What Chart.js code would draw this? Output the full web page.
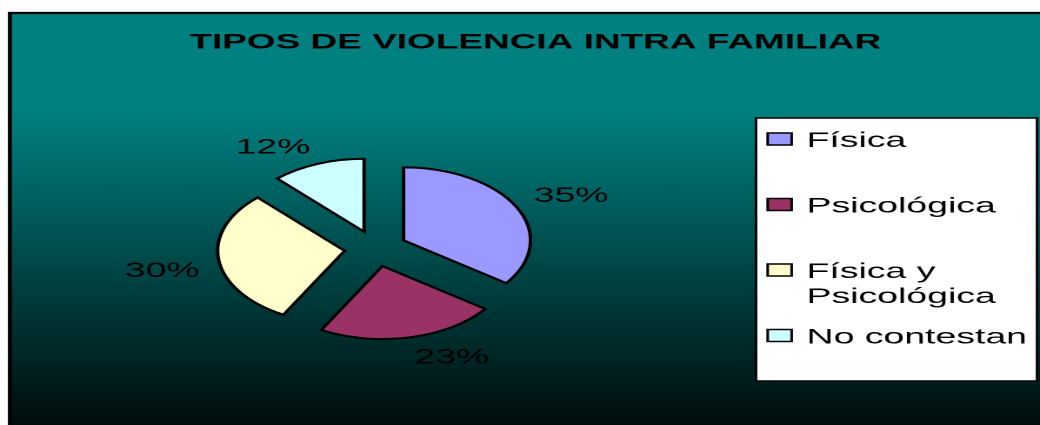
<!DOCTYPE html>
<html lang="es">
<head>
<meta charset="UTF-8">
<title>Tipos de violencia intra familiar</title>
<script src="https://cdn.jsdelivr.net/npm/chart.js"></script>
<style>
  body { margin: 0; background: #fff; }
  canvas { display: block; }
</style>
</head>
<body>
<!-- the original picture is stretched sideways, so the chart is drawn narrow and widened by CSS -->
<canvas id="grafico" width="598" height="425" style="width:1040px;height:425px"></canvas>
<script>
const titulo = 'TIPOS DE VIOLENCIA INTRA FAMILIAR';
const categorias = ['Física', 'Psicológica', 'Física y Psicológica', 'No contestan'];
const leyenda = [['Física'], ['Psicológica'], ['Física y', 'Psicológica'], ['No contestan']];
const porcentajes = [35, 23, 30, 12];
const colores = ['#9999FF', '#993366', '#FFFFCC', '#CCFFFF'];

const FUENTE = '"Liberation Sans", Arial, sans-serif';
const TAM = 21.5;          // font size
const SEPARACION = 18;     // distance of the exploded slices
const DIST_ETIQUETA = 84;  // label corner distance from slice tip
const ALTO_MAY = 15.5;     // cap height of the labels

const fondo = {
    id: 'fondo',
    beforeDraw(chart) {
        const ctx = chart.ctx;
        ctx.save();
        ctx.fillStyle = '#fff';
        ctx.fillRect(0, 0, chart.width, chart.height);
        const g = ctx.createLinearGradient(0, 110, 0, 425);
        g.addColorStop(0, '#008080');
        g.addColorStop(1, '#000c0c');
        ctx.fillStyle = g;
        ctx.fillRect(5.7, 13, chart.width, chart.height);
        ctx.strokeStyle = '#000';
        ctx.lineWidth = 2.3;
        ctx.strokeRect(5.7, 13, chart.width + 10, chart.height + 10);

        ctx.fillStyle = '#000';
        ctx.font = 'bold 21.25px ' + FUENTE;
        ctx.textAlign = 'center';
        ctx.textBaseline = 'alphabetic';
        ctx.fillText(titulo, 307.8, 48.5);
        ctx.restore();
    }
};

const separar = {
    id: 'separar',
    beforeDatasetsDraw(chart) {
        const ctx = chart.ctx;
        chart.getDatasetMeta(0).data.forEach(arc => {
            const m = (arc.startAngle + arc.endAngle) / 2;
            ctx.save();
            ctx.translate(Math.cos(m) * SEPARACION, Math.sin(m) * SEPARACION);
            arc.draw(ctx, chart.chartArea);
            ctx.restore();
        });
        return false;
    },
    afterDraw(chart) {
        const ctx = chart.ctx;
        ctx.save();
        // percentages, the label corner nearest the pie sits on the bisector
        ctx.fillStyle = '#000';
        ctx.font = TAM + 'px ' + FUENTE;
        ctx.textBaseline = 'alphabetic';
        chart.getDatasetMeta(0).data.forEach((arc, i) => {
            const m = (arc.startAngle + arc.endAngle) / 2;
            const dx = Math.cos(m), dy = Math.sin(m);
            const px = arc.x + dx * (SEPARACION + DIST_ETIQUETA);
            const py = arc.y + dy * (SEPARACION + DIST_ETIQUETA);
            ctx.textAlign = dx >= 0 ? 'left' : 'right';
            ctx.fillText(porcentajes[i] + '%', px, dy < 0 ? py : py + ALTO_MAY);
        });

        // legend box
        const x0 = 434.7, y0 = 118, x1 = 596.3, y1 = 381;
        ctx.fillStyle = '#fff';
        ctx.fillRect(x0, y0, x1 - x0, y1 - y0);
        ctx.strokeStyle = '#000';
        ctx.lineWidth = 1.5;
        ctx.strokeRect(x0, y0, x1 - x0, y1 - y0);
        ctx.textAlign = 'left';
        leyenda.forEach((lineas, i) => {
            const base = 147 + i * 65.5;
            ctx.fillStyle = colores[i];
            ctx.fillRect(441.4, base - 14, 13.8, 12);
            ctx.strokeRect(441.4, base - 14, 13.8, 12);
            ctx.fillStyle = '#000';
            lineas.forEach((t, j) => ctx.fillText(t, 463.8, base + j * 25));
        });
        ctx.restore();
    }
};

new Chart(document.getElementById('grafico'), {
    type: 'pie',
    data: {
        labels: categorias,
        datasets: [{
            data: porcentajes,
            backgroundColor: colores,
            borderColor: '#000',
            borderWidth: 2,
            borderJoinStyle: 'miter',
            radius: 73
        }]
    },
    options: {
        responsive: false,
        devicePixelRatio: 2,
        animation: false,
        events: [],
        radius: 73,
        layout: { padding: { left: 116, right: 282, top: 150, bottom: 78 } },
        plugins: {
            legend: { display: false },
            title: { display: false },
            tooltip: { enabled: false }
        }
    },
    plugins: [fondo, separar]
});
</script>
</body>
</html>
